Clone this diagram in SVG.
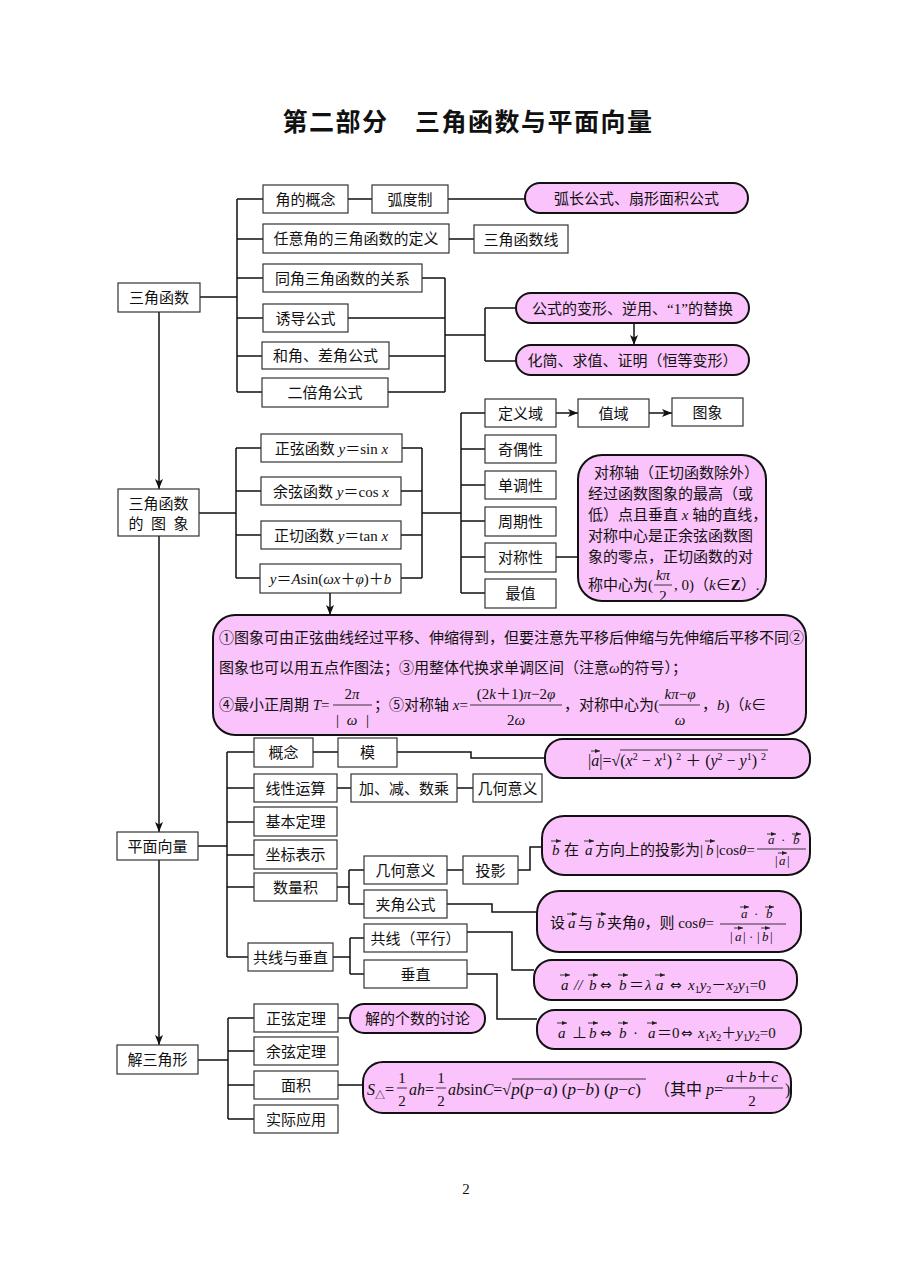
<svg xmlns="http://www.w3.org/2000/svg" width="920" height="1274" viewBox="0 0 920 1274">
<defs>
<marker id="ah" markerWidth="10" markerHeight="8" refX="10" refY="4" orient="auto" markerUnits="userSpaceOnUse"><path d="M0,0 L10,4 L0,8 L2.5,4 z" fill="#111"/></marker>
<marker id="va" markerWidth="5" markerHeight="4" refX="5" refY="2" orient="auto" markerUnits="userSpaceOnUse"><path d="M0,0 L5,2 L0,4 z" fill="#222"/></marker>
</defs>
<style>
.b{fill:#fff;stroke:#333;stroke-width:1.2}
.p{fill:#FBC3FB;stroke:#111;stroke-width:2}
.c{fill:none;stroke:#111;stroke-width:1.5}
.a{fill:none;stroke:#111;stroke-width:1.5;marker-end:url(#ah)}
.v{stroke:#222;stroke-width:0.9;marker-end:url(#va)}
.fb{stroke:#222;stroke-width:0.9;fill:none}
text{font-family:"Liberation Serif","Noto Sans CJK SC",serif;fill:#111;font-size:15px}
.t{text-anchor:middle}
.mid{text-anchor:middle}
.i{font-style:italic}
.m{font-size:16px}
.sm{font-size:13px}
.eq{font-family:"DejaVu Sans",sans-serif;font-size:14px}
.title{font-family:"Noto Sans CJK SC",sans-serif;font-size:25px;font-weight:bold;text-anchor:middle;letter-spacing:1.5px}
</style>
<rect x="0" y="0" width="920" height="1274" fill="#fff"/>
<text class="title" x="468" y="131">第二部分　三角函数与平面向量</text>

<g id="connectors">
<path class="c" d="M200,297 H237 M237,199 V392 M237,199 H263 M237,239 H263 M237,278 H263 M237,318 H263 M237,356 H262 M237,392 H262 M348,199 H372 M448,199 H525 M449,239 H474 M422,278 H445 M348,318 H445 M389,356 H445 M388,392 H445 M445,278 V392 M445,335 H485 M485,308 V361 M485,308 H516 M485,361 H516"/>
<path class="a" d="M634,323 V345"/>
<path class="a" d="M159,312 V489"/>
<path class="c" d="M199,513 H236 M236,448 V578 M236,448 H261 M236,491 H261 M236,535 H261 M236,578 H260 M402,448 H422 M401,491 H422 M401,535 H422 M401,578 H422 M422,448 V578 M422,513 H461 M461,413 V593 M461,413 H485 M461,449 H485 M461,485 H485 M461,521 H485 M461,557 H485 M461,593 H485 M556,557 H578"/>
<path class="a" d="M556,413 H578"/>
<path class="a" d="M649,413 H672"/>
<path class="a" d="M330,593 V615"/>
<path class="a" d="M159,536 V832"/>
<path class="c" d="M198,846 H227 M227,752 V957 M227,752 H254 M227,788 H254 M227,822 H254 M227,855 H254 M227,887 H254 M227,957 H248 M313,752 H338 M397,752 H471 V758 H545 M337,788 H351 M457,788 H473 M337,887 H349 M349,870 V904 M349,870 H364 M349,904 H364 M447,870 H463 M518,870 H530 V847 H542 M447,904 H492 V912 H537 M333,957 H350 M350,938 V974 M350,938 H364 M350,974 H364 M467,932 H512 V970 H534 M467,974 H497 V1019 H537"/>
<path class="a" d="M159,860 V1045"/>
<path class="c" d="M198,1060 H228 M228,1018 V1119 M228,1018 H254 M228,1051 H254 M228,1085 H254 M228,1119 H254 M338,1018 H350 M338,1085 H363"/>
</g>

<!-- Section 1 -->
<g id="n-sanjiaohanshu"><rect class="b" x="118" y="283" width="82" height="29"/><text class="t" x="159" y="303">三角函数</text></g>
<g id="n-jiaodegainian"><rect class="b" x="263" y="185" width="85" height="28"/><text class="t" x="305.5" y="204.5">角的概念</text></g>
<g id="n-hudu"><rect class="b" x="372" y="185" width="76" height="28"/><text class="t" x="410" y="204.5">弧度制</text></g>
<g id="n-huchang"><rect class="p" x="525" y="183" width="223" height="30" rx="15"/><text class="t" x="636.5" y="203.5">弧长公式、扇形面积公式</text></g>
<g id="n-renyijiao"><rect class="b" x="263" y="224" width="186" height="29"/><text class="t" x="356" y="244">任意角的三角函数的定义</text></g>
<g id="n-hanshuxian"><rect class="b" x="474" y="225" width="94" height="28"/><text class="t" x="521" y="244.5">三角函数线</text></g>
<g id="n-tongjiao"><rect class="b" x="263" y="264" width="159" height="28"/><text class="t" x="342.5" y="283.5">同角三角函数的关系</text></g>
<g id="n-youdao"><rect class="b" x="263" y="304" width="85" height="28"/><text class="t" x="305.5" y="323.5">诱导公式</text></g>
<g id="n-hejiao"><rect class="b" x="262" y="342" width="127" height="27"/><text class="t" x="325.5" y="361">和角、差角公式</text></g>
<g id="n-beijiao"><rect class="b" x="262" y="378" width="126" height="29"/><text class="t" x="325" y="398">二倍角公式</text></g>
<g id="n-bianxing"><rect class="p" x="516" y="293" width="233" height="30" rx="15"/><text class="t" x="632.5" y="313.5">公式的变形、逆用、“1”的替换</text></g>
<g id="n-huajian"><rect class="p" x="516" y="345" width="233" height="30" rx="15"/><text class="t" x="632.5" y="365.5">化简、求值、证明（恒等变形）</text></g>

<!-- Section 2 -->
<g id="n-tuxiang"><rect class="b" x="118" y="489" width="81" height="47"/><text class="t" x="158.5" y="509">三角函数</text><text class="t" x="158.5" y="529" textLength="60" lengthAdjust="spacing">的图象</text></g>
<g id="n-sin"><rect class="b" x="261" y="434" width="141" height="28"/><text class="t" x="331.5" y="453.5">正弦函数 <tspan class="i">y</tspan>＝sin <tspan class="i">x</tspan></text></g>
<g id="n-cos"><rect class="b" x="261" y="477" width="140" height="28"/><text class="t" x="331" y="496.5">余弦函数 <tspan class="i">y</tspan>＝cos <tspan class="i">x</tspan></text></g>
<g id="n-tan"><rect class="b" x="261" y="521" width="140" height="28"/><text class="t" x="331" y="540.5">正切函数 <tspan class="i">y</tspan>＝tan <tspan class="i">x</tspan></text></g>
<g id="n-asin"><rect class="b" x="260" y="564" width="141" height="29"/><text class="t" x="330.5" y="584"><tspan class="i">y</tspan>＝<tspan class="i">A</tspan>sin(<tspan class="i">ωx</tspan>＋<tspan class="i">φ</tspan>)＋<tspan class="i">b</tspan></text></g>
<g id="n-dingyiyu"><rect class="b" x="485" y="399" width="71" height="28"/><text class="t" x="520.5" y="418.5">定义域</text></g>
<g id="n-zhiyu"><rect class="b" x="578" y="399" width="71" height="28"/><text class="t" x="613.5" y="418.5">值域</text></g>
<g id="n-tuxiang2"><rect class="b" x="672" y="398" width="71" height="28"/><text class="t" x="707.5" y="417.5">图象</text></g>
<g id="n-jiou"><rect class="b" x="485" y="435" width="71" height="28"/><text class="t" x="520.5" y="454.5">奇偶性</text></g>
<g id="n-dandiao"><rect class="b" x="485" y="471" width="71" height="28"/><text class="t" x="520.5" y="490.5">单调性</text></g>
<g id="n-zhouqi"><rect class="b" x="485" y="507" width="71" height="29"/><text class="t" x="520.5" y="527">周期性</text></g>
<g id="n-duichen"><rect class="b" x="485" y="543" width="71" height="29"/><text class="t" x="520.5" y="563">对称性</text></g>
<g id="n-zuizhi"><rect class="b" x="485" y="579" width="71" height="29"/><text class="t" x="520.5" y="599">最值</text></g>
<g id="n-duichenzhou"><rect class="p" x="578" y="455" width="188" height="146" rx="24"/>
<text x="594" y="478">对称轴（正切函数除外）</text>
<text x="588" y="499">经过函数图象的最高（或</text>
<text x="588" y="520">低）点且垂直 <tspan class="i">x</tspan> 轴的直线，</text>
<text x="588" y="541">对称中心是正余弦函数图</text>
<text x="588" y="562">象的零点，正切函数的对</text>
<text x="588" y="590">称中心为(</text>
<text class="mid" x="663" y="580" font-size="14"><tspan class="i">kπ</tspan></text>
<path class="fb" d="M654,585 H672"/>
<text class="mid" x="663" y="601" font-size="14">2</text>
<text x="674" y="590">, 0)（<tspan class="i">k</tspan>∈<tspan font-weight="bold">Z</tspan>）.</text>
</g>
<g id="n-zhuyi"><rect class="p" x="213" y="615" width="593" height="120" rx="22"/>
<text x="219" y="643">①图象可由正弦曲线经过平移、伸缩得到，但要注意先平移后伸缩与先伸缩后平移不同②</text>
<text x="219" y="673">图象也可以用五点作图法；③用整体代换求单调区间（注意<tspan class="i">ω</tspan>的符号）；</text>
<text x="219" y="710">④最小正周期 <tspan class="i">T</tspan>=</text>
<path class="fb" d="M333,705 H372"/>
<text class="mid" x="352" y="699">2<tspan class="i">π</tspan></text>
<text x="336" y="725">|</text><text class="mid i" x="352" y="725">ω</text><text x="366" y="725">|</text>
<text x="374" y="710">；⑤对称轴 <tspan class="i">x</tspan>=</text>
<path class="fb" d="M470,705 H562"/>
<text class="mid" x="516" y="699">(2<tspan class="i">k</tspan>＋1)<tspan class="i">π</tspan>−2<tspan class="i">φ</tspan></text>
<text class="mid" x="516" y="725">2<tspan class="i">ω</tspan></text>
<text x="564" y="710">，对称中心为(</text>
<path class="fb" d="M659,705 H700"/>
<text class="mid" x="680" y="699"><tspan class="i">kπ</tspan>−<tspan class="i">φ</tspan></text>
<text class="mid i" x="680" y="725">ω</text>
<text x="702" y="710">，<tspan class="i">b</tspan>)（<tspan class="i">k</tspan>∈</text>
</g>

<!-- Section 3 -->
<g id="n-pingmianxiangliang"><rect class="b" x="117" y="832" width="81" height="28"/><text class="t" x="157.5" y="851.5">平面向量</text></g>
<g id="n-gainian"><rect class="b" x="254" y="738" width="59" height="29"/><text class="t" x="283.5" y="758">概念</text></g>
<g id="n-mo"><rect class="b" x="338" y="738" width="59" height="29"/><text class="t" x="367.5" y="758">模</text></g>
<g id="n-mogongshi"><rect class="p" x="545" y="739" width="265" height="39" rx="18"/>
<text x="588" y="766" class="m">|<tspan class="i">a</tspan>|=√(<tspan class="i">x</tspan><tspan dy="-6" font-size="10">2</tspan><tspan dy="6"> − </tspan><tspan class="i">x</tspan><tspan dy="-6" font-size="10">1</tspan><tspan dy="6">) </tspan><tspan dy="-6" font-size="10">2</tspan><tspan dy="6"> ＋ (</tspan><tspan class="i">y</tspan><tspan dy="-6" font-size="10">2</tspan><tspan dy="6"> − </tspan><tspan class="i">y</tspan><tspan dy="-6" font-size="10">1</tspan><tspan dy="6">) </tspan><tspan dy="-6" font-size="10">2</tspan></text>
<line class="v" x1="591" y1="751" x2="600" y2="751"/>
<path class="fb" d="M620,750 H768"/>
</g>
<g id="n-xianxing"><rect class="b" x="254" y="774" width="83" height="28"/><text class="t" x="295.5" y="793.5">线性运算</text></g>
<g id="n-jiajian"><rect class="b" x="351" y="774" width="106" height="28"/><text class="t" x="404" y="793.5">加、减、数乘</text></g>
<g id="n-jihe1"><rect class="b" x="473" y="774" width="69" height="28"/><text class="t" x="507.5" y="793.5">几何意义</text></g>
<g id="n-jiben"><rect class="b" x="254" y="807" width="83" height="29"/><text class="t" x="295.5" y="827">基本定理</text></g>
<g id="n-zuobiao"><rect class="b" x="254" y="840" width="83" height="29"/><text class="t" x="295.5" y="860">坐标表示</text></g>
<g id="n-shuliangji"><rect class="b" x="254" y="873" width="83" height="28"/><text class="t" x="295.5" y="892.5">数量积</text></g>
<g id="n-gongxianchuizhi"><rect class="b" x="248" y="943" width="85" height="28"/><text class="t" x="290.5" y="962.5">共线与垂直</text></g>
<g id="n-jihe2"><rect class="b" x="364" y="856" width="83" height="28"/><text class="t" x="405.5" y="875.5">几何意义</text></g>
<g id="n-jiajiao"><rect class="b" x="364" y="890" width="83" height="28"/><text class="t" x="405.5" y="909.5">夹角公式</text></g>
<g id="n-touying"><rect class="b" x="463" y="856" width="55" height="28"/><text class="t" x="490.5" y="875.5">投影</text></g>
<g id="n-gongxian"><rect class="b" x="364" y="924" width="103" height="28"/><text class="t" x="415.5" y="943.5">共线（平行）</text></g>
<g id="n-chuizhi"><rect class="b" x="364" y="960" width="103" height="28"/><text class="t" x="415.5" y="979.5">垂直</text></g>
<g id="n-touyinggongshi"><rect class="p" x="542" y="816" width="268" height="59" rx="22"/>
<text y="855"><tspan x="552" class="i">b</tspan><tspan x="564">在</tspan><tspan x="585" class="i">a</tspan><tspan x="595">方向上的投影为|</tspan><tspan x="706" class="i">b</tspan><tspan x="716">|cos</tspan><tspan class="i">θ</tspan>=</text>
<line class="v" x1="551" y1="841" x2="561" y2="841"/>
<line class="v" x1="584" y1="841" x2="594" y2="841"/>
<line class="v" x1="705" y1="841" x2="715" y2="841"/>
<path class="fb" d="M757,849 H806"/>
<text class="sm" y="844"><tspan x="768" class="i">a</tspan><tspan x="781">·</tspan><tspan x="793" class="i">b</tspan></text>
<line class="v" x1="767" y1="834" x2="776" y2="834"/>
<line class="v" x1="792" y1="834" x2="801" y2="834"/>
<text class="sm" y="865"><tspan x="775">|</tspan><tspan x="779" class="i">a</tspan><tspan x="787">|</tspan></text>
<line class="v" x1="778" y1="853" x2="787" y2="853"/>
</g>
<g id="n-jiajiaogongshi"><rect class="p" x="537" y="891" width="264" height="61" rx="22"/>
<text y="928"><tspan x="550">设</tspan><tspan x="568" class="i">a</tspan><tspan x="578">与</tspan><tspan x="597" class="i">b</tspan><tspan x="607">夹角</tspan><tspan class="i">θ</tspan>，则 cos<tspan class="i">θ</tspan>=</text>
<line class="v" x1="567" y1="914" x2="577" y2="914"/>
<line class="v" x1="596" y1="914" x2="606" y2="914"/>
<path class="fb" d="M720,924 H786"/>
<text class="sm" y="918"><tspan x="741" class="i">a</tspan><tspan x="754">·</tspan><tspan x="766" class="i">b</tspan></text>
<line class="v" x1="740" y1="907" x2="749" y2="907"/>
<line class="v" x1="765" y1="907" x2="774" y2="907"/>
<text class="sm" y="941"><tspan x="730">|</tspan><tspan x="735" class="i">a</tspan><tspan x="743">|</tspan><tspan x="749">·</tspan><tspan x="757">|</tspan><tspan x="762" class="i">b</tspan><tspan x="770">|</tspan></text>
<line class="v" x1="734" y1="928" x2="743" y2="928"/>
<line class="v" x1="761" y1="928" x2="770" y2="928"/>
</g>
<g id="n-gongxiangongshi"><rect class="p" x="534" y="960" width="263" height="40" rx="18"/>
<text y="990"><tspan x="561" class="i">a</tspan><tspan x="574" class="i">//</tspan><tspan x="589" class="i">b</tspan><tspan x="600" class="eq">⇔</tspan><tspan x="619" class="i">b</tspan><tspan x="629">＝</tspan><tspan x="645" class="i">λ</tspan><tspan x="656" class="i">a</tspan><tspan x="670" class="eq">⇔</tspan><tspan x="688" class="i">x</tspan><tspan dy="3" font-size="10">1</tspan><tspan dy="-3" class="i">y</tspan><tspan dy="3" font-size="10">2</tspan><tspan dy="-3">－</tspan><tspan class="i">x</tspan><tspan dy="3" font-size="10">2</tspan><tspan dy="-3" class="i">y</tspan><tspan dy="3" font-size="10">1</tspan><tspan dy="-3">=0</tspan></text>
<line class="v" x1="560" y1="975" x2="570" y2="975"/>
<line class="v" x1="588" y1="975" x2="598" y2="975"/>
<line class="v" x1="618" y1="975" x2="628" y2="975"/>
<line class="v" x1="655" y1="975" x2="665" y2="975"/>
</g>
<g id="n-chuizhigongshi"><rect class="p" x="537" y="1010" width="264" height="39" rx="18"/>
<text y="1038"><tspan x="558" class="i">a</tspan><tspan x="572">⊥</tspan><tspan x="589" class="i">b</tspan><tspan x="600" class="eq">⇔</tspan><tspan x="619" class="i">b</tspan><tspan x="633">·</tspan><tspan x="648" class="i">a</tspan><tspan x="657">＝0</tspan><tspan x="681" class="eq">⇔</tspan><tspan x="698" class="i">x</tspan><tspan dy="3" font-size="10">1</tspan><tspan dy="-3" class="i">x</tspan><tspan dy="3" font-size="10">2</tspan><tspan dy="-3">＋</tspan><tspan class="i">y</tspan><tspan dy="3" font-size="10">1</tspan><tspan dy="-3" class="i">y</tspan><tspan dy="3" font-size="10">2</tspan><tspan dy="-3">=0</tspan></text>
<line class="v" x1="557" y1="1023" x2="567" y2="1023"/>
<line class="v" x1="588" y1="1023" x2="598" y2="1023"/>
<line class="v" x1="618" y1="1023" x2="628" y2="1023"/>
<line class="v" x1="647" y1="1023" x2="657" y2="1023"/>
</g>

<!-- Section 4 -->
<g id="n-jiesanjiaoxing"><rect class="b" x="117" y="1045" width="81" height="29"/><text class="t" x="157.5" y="1065">解三角形</text></g>
<g id="n-zhengxian"><rect class="b" x="254" y="1004" width="84" height="28"/><text class="t" x="296" y="1023.5">正弦定理</text></g>
<g id="n-yuxian"><rect class="b" x="254" y="1037" width="84" height="28"/><text class="t" x="296" y="1056.5">余弦定理</text></g>
<g id="n-mianji"><rect class="b" x="254" y="1071" width="84" height="28"/><text class="t" x="296" y="1090.5">面积</text></g>
<g id="n-shiji"><rect class="b" x="254" y="1105" width="84" height="28"/><text class="t" x="296" y="1124.5">实际应用</text></g>
<g id="n-gongshu"><rect class="p" x="350" y="1004" width="135" height="29" rx="14"/><text class="t" x="417.5" y="1024">解的个数的讨论</text></g>
<g id="n-mianjigongshi"><rect class="p" x="363" y="1062" width="428" height="51" rx="20"/>
<text class="m" y="1095"><tspan x="367" class="i">S</tspan><tspan dy="4" font-size="10">△</tspan><tspan dy="-4">=</tspan></text>
<text class="mid" x="402" y="1083" font-size="14">1</text><path class="fb" d="M397,1088 H407"/><text class="mid" x="402" y="1106" font-size="14">2</text>
<text class="m" x="409" y="1095"><tspan class="i">ah</tspan>=</text>
<text class="mid" x="441" y="1083" font-size="14">1</text><path class="fb" d="M436,1088 H446"/><text class="mid" x="441" y="1106" font-size="14">2</text>
<text class="m" x="448" y="1095"><tspan class="i">ab</tspan>sin<tspan class="i">C</tspan>=√<tspan font-size="17"><tspan class="i">p</tspan>(<tspan class="i">p</tspan>−<tspan class="i">a</tspan>) (<tspan class="i">p</tspan>−<tspan class="i">b</tspan>) (<tspan class="i">p</tspan>−<tspan class="i">c</tspan>)</tspan></text>
<path class="fb" d="M512,1079 H646"/>
<text class="m" x="654" y="1095">（其中 <tspan class="i">p</tspan>=</text>
<path class="fb" d="M722,1088 H783"/>
<text class="mid" x="752" y="1082"><tspan class="i">a</tspan>＋<tspan class="i">b</tspan>＋<tspan class="i">c</tspan></text>
<text class="mid" x="752" y="1106">2</text>
<text class="m" x="785" y="1095">)</text>
</g>

<text class="mid" x="466" y="1194" font-size="14">2</text>
</svg>
